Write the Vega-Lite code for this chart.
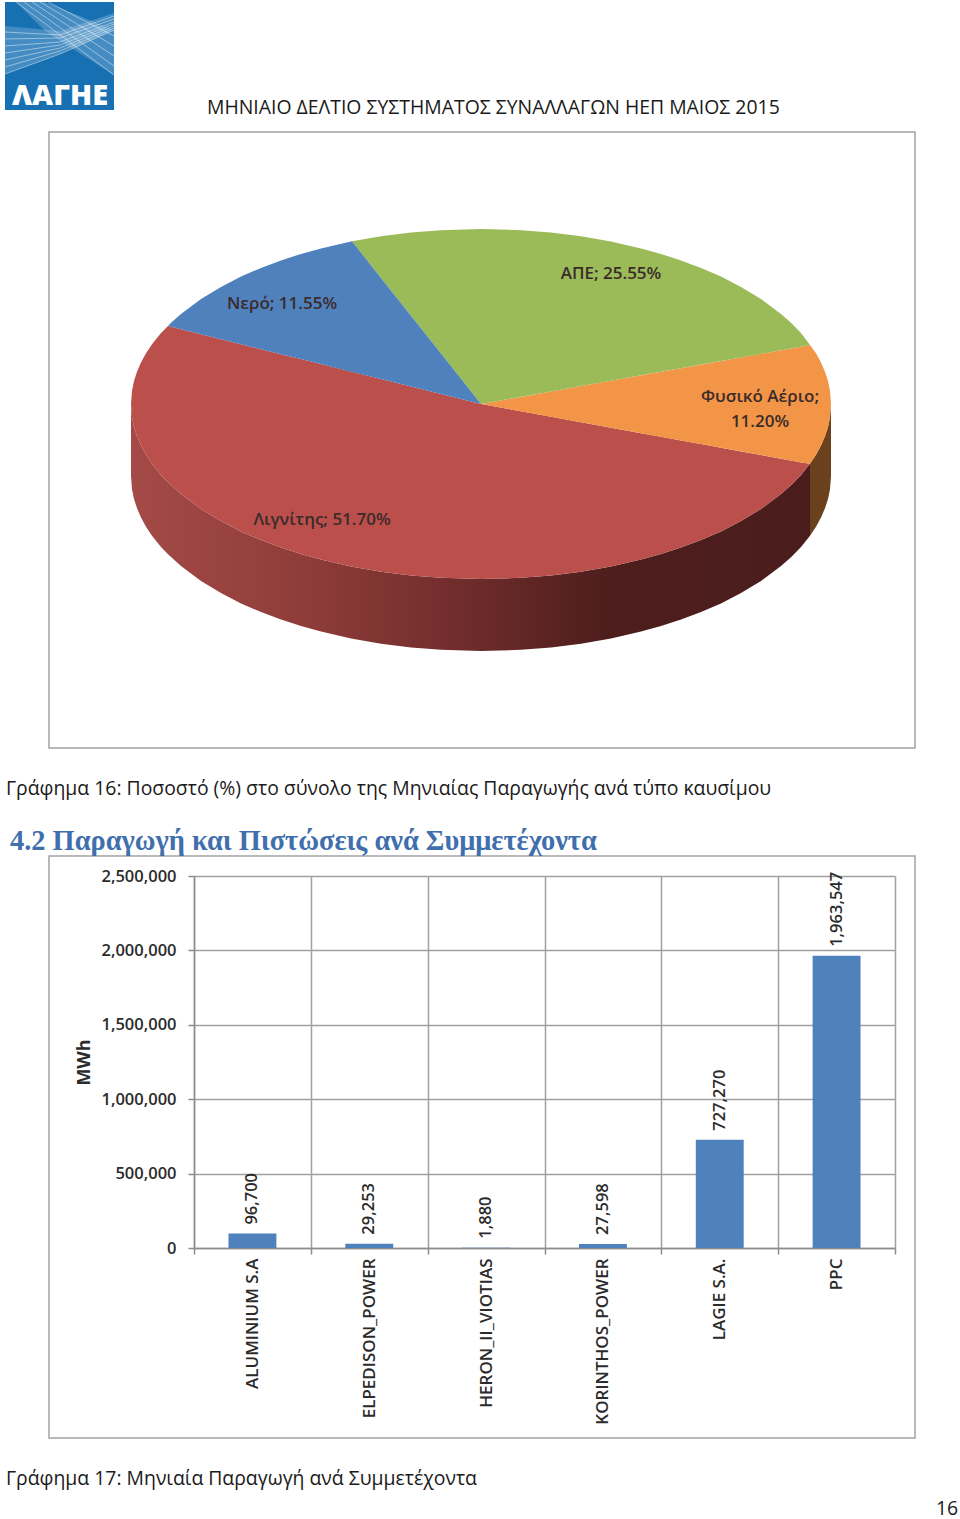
{
"$schema":"https://vega.github.io/schema/vega-lite/v6.json",
"width":960,"height":1519,"padding":0,"autosize":{"type":"none"},
"background":"white",
"config":{"view":{"stroke":null}},
"datasets":{
"frames":[{"name":"pie","x":49,"x2":915,"y":132,"y2":748},{"name":"bars","x":49,"x2":915,"y":856,"y2":1438}],
"logoBase":[{"x":5,"x2":114,"y":2,"y2":110}],
"logoBands":[
{"band":"a","x":5,"y":26,"y2":74},{"band":"a","x":60,"y":31,"y2":54},{"band":"a","x":114,"y":13,"y2":30},
{"band":"b","x":16,"y":2,"y2":2},{"band":"b","x":45,"y":2,"y2":31},{"band":"b","x":114,"y":30,"y2":75}],
"logoLines":[
{"l":"a1","x":5,"y":74},{"l":"a1","x":60,"y":54},{"l":"a1","x":114,"y":30},
{"l":"a2","x":5,"y":67},{"l":"a2","x":60,"y":51},{"l":"a2","x":114,"y":28},
{"l":"a3","x":5,"y":60},{"l":"a3","x":60,"y":48},{"l":"a3","x":114,"y":26},
{"l":"a4","x":5,"y":53},{"l":"a4","x":60,"y":45},{"l":"a4","x":114,"y":24},
{"l":"a5","x":5,"y":46},{"l":"a5","x":60,"y":42},{"l":"a5","x":114,"y":22},
{"l":"a6","x":5,"y":39},{"l":"a6","x":60,"y":38},{"l":"a6","x":114,"y":19},
{"l":"a7","x":5,"y":32},{"l":"a7","x":60,"y":35},{"l":"a7","x":114,"y":16},
{"l":"b1","x":16,"y":2},{"l":"b1","x":114,"y":75},
{"l":"b2","x":24,"y":2},{"l":"b2","x":114,"y":66},
{"l":"b3","x":32,"y":2},{"l":"b3","x":114,"y":56},
{"l":"b4","x":40,"y":2},{"l":"b4","x":114,"y":46},
{"l":"b5","x":48,"y":2},{"l":"b5","x":114,"y":36}],
"sideRed":[
{"x":131,"y":404,"y2":476},{"x":132,"y":417.2,"y2":489.2},{"x":134,"y":426.9,"y2":498.9},{"x":137,"y":436.3,"y2":508.3},{"x":141,"y":445.5,"y2":517.5},{"x":146,"y":454.7,"y2":526.7},{"x":152,"y":463.7,"y2":535.7},{"x":161,"y":474.9,"y2":546.9},{"x":168,"y":482.3,"y2":554.3},{"x":181,"y":494.1,"y2":566.1},{"x":201,"y":509,"y2":581},{"x":221,"y":521.1,"y2":593.1},{"x":241,"y":531.4,"y2":603.4},{"x":261,"y":540.1,"y2":612.1},{"x":281,"y":547.6,"y2":619.6},{"x":301,"y":554.1,"y2":626.1},{"x":321,"y":559.6,"y2":631.6},{"x":351,"y":566.5,"y2":638.5},{"x":381,"y":571.7,"y2":643.7},{"x":411,"y":575.5,"y2":647.5},{"x":441,"y":577.8,"y2":649.8},{"x":481,"y":579,"y2":651},{"x":521,"y":577.8,"y2":649.8},{"x":551,"y":575.5,"y2":647.5},{"x":581,"y":571.7,"y2":643.7},{"x":611,"y":566.5,"y2":638.5},{"x":641,"y":559.6,"y2":631.6},{"x":661,"y":554.1,"y2":626.1},{"x":681,"y":547.6,"y2":619.6},{"x":701,"y":540.1,"y2":612.1},{"x":721,"y":531.4,"y2":603.4},{"x":741,"y":521.1,"y2":593.1},{"x":761,"y":509,"y2":581},{"x":781,"y":494.1,"y2":566.1},{"x":791,"y":485.2,"y2":557.2},{"x":801,"y":474.9,"y2":546.9},{"x":810,"y":463.7,"y2":535.7}],
"sideOrange":[
{"x":810,"y":463.7,"y2":535.7},{"x":816,"y":454.7,"y2":526.7},{"x":821,"y":445.5,"y2":517.5},{"x":825,"y":436.3,"y2":508.3},{"x":828,"y":426.9,"y2":498.9},{"x":830,"y":417.2,"y2":489.2},{"x":831,"y":404,"y2":476}],
"slices":[
{"slice":"Λιγνίτης","x":131,"y":404,"y2":404},{"slice":"Λιγνίτης","x":132,"y":390.8,"y2":417.2},{"slice":"Λιγνίτης","x":134,"y":381.1,"y2":426.9},{"slice":"Λιγνίτης","x":137,"y":371.7,"y2":436.3},{"slice":"Λιγνίτης","x":141,"y":362.5,"y2":445.5},{"slice":"Λιγνίτης","x":146,"y":353.3,"y2":454.7},{"slice":"Λιγνίτης","x":152,"y":344.3,"y2":463.7},{"slice":"Λιγνίτης","x":161,"y":333.1,"y2":474.9},{"slice":"Λιγνίτης","x":168,"y":326,"y2":482.3},{"slice":"Λιγνίτης","x":181,"y":329.2,"y2":494.1},{"slice":"Λιγνίτης","x":201,"y":334.2,"y2":509},{"slice":"Λιγνίτης","x":221,"y":339.2,"y2":521.1},{"slice":"Λιγνίτης","x":241,"y":344.2,"y2":531.4},{"slice":"Λιγνίτης","x":261,"y":349.2,"y2":540.1},{"slice":"Λιγνίτης","x":281,"y":354.2,"y2":547.6},{"slice":"Λιγνίτης","x":301,"y":359.1,"y2":554.1},{"slice":"Λιγνίτης","x":321,"y":364.1,"y2":559.6},{"slice":"Λιγνίτης","x":351,"y":371.6,"y2":566.5},{"slice":"Λιγνίτης","x":381,"y":379.1,"y2":571.7},{"slice":"Λιγνίτης","x":411,"y":386.6,"y2":575.5},{"slice":"Λιγνίτης","x":441,"y":394,"y2":577.8},{"slice":"Λιγνίτης","x":481,"y":404,"y2":579},{"slice":"Λιγνίτης","x":521,"y":411.3,"y2":577.8},{"slice":"Λιγνίτης","x":551,"y":416.8,"y2":575.5},{"slice":"Λιγνίτης","x":581,"y":422.2,"y2":571.7},{"slice":"Λιγνίτης","x":611,"y":427.7,"y2":566.5},{"slice":"Λιγνίτης","x":641,"y":433.2,"y2":559.6},{"slice":"Λιγνίτης","x":661,"y":436.8,"y2":554.1},{"slice":"Λιγνίτης","x":681,"y":440.5,"y2":547.6},{"slice":"Λιγνίτης","x":701,"y":444.1,"y2":540.1},{"slice":"Λιγνίτης","x":721,"y":447.8,"y2":531.4},{"slice":"Λιγνίτης","x":741,"y":451.4,"y2":521.1},{"slice":"Λιγνίτης","x":761,"y":455.1,"y2":509},{"slice":"Λιγνίτης","x":781,"y":458.7,"y2":494.1},{"slice":"Λιγνίτης","x":791,"y":460.5,"y2":485.2},{"slice":"Λιγνίτης","x":801,"y":462.4,"y2":474.9},{"slice":"Λιγνίτης","x":810,"y":463.7,"y2":463.7},
{"slice":"Φυσικό Αέριο","x":481,"y":404,"y2":404},{"slice":"Φυσικό Αέριο","x":581,"y":386.1,"y2":422.2},{"slice":"Φυσικό Αέριο","x":681,"y":368.2,"y2":440.5},{"slice":"Φυσικό Αέριο","x":781,"y":350.3,"y2":458.7},{"slice":"Φυσικό Αέριο","x":801,"y":346.7,"y2":462.4},{"slice":"Φυσικό Αέριο","x":810,"y":345,"y2":463.7},{"slice":"Φυσικό Αέριο","x":816,"y":353.3,"y2":454.7},{"slice":"Φυσικό Αέριο","x":821,"y":362.5,"y2":445.5},{"slice":"Φυσικό Αέριο","x":825,"y":371.7,"y2":436.3},{"slice":"Φυσικό Αέριο","x":828,"y":381.1,"y2":426.9},{"slice":"Φυσικό Αέριο","x":830,"y":390.8,"y2":417.2},{"slice":"Φυσικό Αέριο","x":831,"y":404,"y2":404},
{"slice":"ΑΠΕ","x":352,"y":241.3,"y2":241.3},{"slice":"ΑΠΕ","x":381,"y":236.3,"y2":277.9},{"slice":"ΑΠΕ","x":411,"y":232.5,"y2":315.7},{"slice":"ΑΠΕ","x":441,"y":230.2,"y2":353.6},{"slice":"ΑΠΕ","x":481,"y":229,"y2":404},{"slice":"ΑΠΕ","x":521,"y":230.2,"y2":396.8},{"slice":"ΑΠΕ","x":551,"y":232.5,"y2":391.4},{"slice":"ΑΠΕ","x":581,"y":236.3,"y2":386.1},{"slice":"ΑΠΕ","x":611,"y":241.5,"y2":380.7},{"slice":"ΑΠΕ","x":641,"y":248.4,"y2":375.3},{"slice":"ΑΠΕ","x":661,"y":253.9,"y2":371.7},{"slice":"ΑΠΕ","x":681,"y":260.4,"y2":368.2},{"slice":"ΑΠΕ","x":701,"y":267.9,"y2":364.6},{"slice":"ΑΠΕ","x":721,"y":276.6,"y2":361},{"slice":"ΑΠΕ","x":741,"y":286.9,"y2":357.4},{"slice":"ΑΠΕ","x":761,"y":299,"y2":353.9},{"slice":"ΑΠΕ","x":781,"y":313.9,"y2":350.3},{"slice":"ΑΠΕ","x":791,"y":322.8,"y2":348.5},{"slice":"ΑΠΕ","x":801,"y":333.1,"y2":346.7},{"slice":"ΑΠΕ","x":810,"y":345,"y2":345},
{"slice":"Νερό","x":168,"y":326,"y2":326},{"slice":"Νερό","x":171,"y":322.8,"y2":326.7},{"slice":"Νερό","x":181,"y":313.9,"y2":329.2},{"slice":"Νερό","x":201,"y":299,"y2":334.2},{"slice":"Νερό","x":221,"y":286.9,"y2":339.2},{"slice":"Νερό","x":241,"y":276.6,"y2":344.2},{"slice":"Νερό","x":261,"y":267.9,"y2":349.2},{"slice":"Νερό","x":281,"y":260.4,"y2":354.2},{"slice":"Νερό","x":301,"y":253.9,"y2":359.1},{"slice":"Νερό","x":321,"y":248.4,"y2":364.1},{"slice":"Νερό","x":352,"y":241.3,"y2":371.9},{"slice":"Νερό","x":381,"y":277.9,"y2":379.1},{"slice":"Νερό","x":411,"y":315.7,"y2":386.6},{"slice":"Νερό","x":441,"y":353.6,"y2":394},{"slice":"Νερό","x":481,"y":404,"y2":404}],
"pieLabels":[
{"label":"Νερό; 11.55%","x":282,"y":309},
{"label":"ΑΠΕ; 25.55%","x":611,"y":279},
{"label":"Φυσικό Αέριο;","x":760,"y":402},
{"label":"11.20%","x":760,"y":427},
{"label":"Λιγνίτης; 51.70%","x":322,"y":525}],
"bodyText":[
{"label":"ΜΗΝΙΑΙΟ ΔΕΛΤΙΟ ΣΥΣΤΗΜΑΤΟΣ ΣΥΝΑΛΛΑΓΩΝ ΗΕΠ ΜΑΙΟΣ 2015","x":207,"y":114},
{"label":"Γράφημα 16: Ποσοστό (%) στο σύνολο της Μηνιαίας Παραγωγής ανά τύπο καυσίμου","x":6,"y":795},
{"label":"Γράφημα 17: Μηνιαία Παραγωγή ανά Συμμετέχοντα","x":6,"y":1485},
{"label":"16","x":936,"y":1515}],
"heading":[{"label":"4.2 Παραγωγή και Πιστώσεις ανά Συμμετέχοντα","x":10,"y":850}],
"logoText":[{"label":"ΛΑΓΗΕ","x":60,"y":105}],
"bars":[
{"company":"ALUMINIUM S.A","mwh":96700},
{"company":"ELPEDISON_POWER","mwh":29253},
{"company":"HERON_II_VIOTIAS","mwh":1880},
{"company":"KORINTHOS_POWER","mwh":27598},
{"company":"LAGIE S.A.","mwh":727270},
{"company":"PPC","mwh":1963547}]
},
"layer":[
{"data":{"name":"bars"},
"mark":{"type":"bar","opacity":0},
"encoding":{
"x":{"field":"company","type":"nominal","sort":null,"title":null,"scale":{"range":[194,895],"paddingInner":0,"paddingOuter":0},
"axis":{"orient":"top","tickBand":"extent","grid":true,"gridColor":"#a0a0a0","gridWidth":1.5,"domain":false,"ticks":false,"labels":false}},
"y":{"field":"mwh","type":"quantitative","scale":{"domain":[0,2500000],"range":[1248,876]},"axis":null}}},
{"encoding":{
"x":{"field":"x","type":"quantitative","scale":{"domain":[0,960],"range":[0,960]},"axis":null},
"y":{"field":"y","type":"quantitative","scale":{"domain":[0,1519],"range":[0,1519]},"axis":null}},
"layer":[
{"data":{"name":"frames"},"mark":{"type":"rect","fill":null,"stroke":"#a3a3a3","strokeWidth":1.5},"encoding":{"x2":{"field":"x2"},"y2":{"field":"y2"}}},
{"data":{"name":"logoBase"},"mark":{"type":"rect","fill":"#1670b2"},"encoding":{"x2":{"field":"x2"},"y2":{"field":"y2"}}},
{"data":{"name":"logoBands"},"mark":{"type":"area","fill":"#ffffff","fillOpacity":0.2},"encoding":{"detail":{"field":"band"},"y":{"field":"y","type":"quantitative","stack":null,"scale":{"domain":[0,1519],"range":[0,1519]},"axis":null},"y2":{"field":"y2"}}},
{"data":{"name":"logoLines"},"mark":{"type":"line","stroke":"#ffffff","strokeWidth":1,"opacity":0.45},"encoding":{"detail":{"field":"l"}}},
{"data":{"name":"logoText"},"mark":{"type":"text","align":"center","baseline":"alphabetic","font":"Open Sans","fontWeight":800,"fontSize":29,"fill":"#ffffff"},"encoding":{"text":{"field":"label"}}},
{"data":{"name":"sideRed"},"mark":{"type":"area","color":{"gradient":"linear","x1":0,"x2":1,"y1":0,"y2":0,"stops":[{"offset":0,"color":"#a44a47"},{"offset":0.25,"color":"#8f3d3a"},{"offset":0.45,"color":"#752f2e"},{"offset":0.7,"color":"#4e1e1d"},{"offset":1,"color":"#4a1d1c"}]}},"encoding":{"y":{"field":"y","type":"quantitative","stack":null,"scale":{"domain":[0,1519],"range":[0,1519]},"axis":null},"y2":{"field":"y2"}}},
{"data":{"name":"sideOrange"},"mark":{"type":"area","color":"#6a401d"},"encoding":{"y":{"field":"y","type":"quantitative","stack":null,"scale":{"domain":[0,1519],"range":[0,1519]},"axis":null},"y2":{"field":"y2"}}},
{"data":{"name":"slices"},"mark":{"type":"area"},"encoding":{"y":{"field":"y","type":"quantitative","stack":null,"scale":{"domain":[0,1519],"range":[0,1519]},"axis":null},"y2":{"field":"y2"},"color":{"field":"slice","type":"nominal","legend":null,"scale":{"domain":["Λιγνίτης","Φυσικό Αέριο","ΑΠΕ","Νερό"],"range":["#bb4f4b","#f39546","#9bbb59","#4f81bd"]}}}},
{"data":{"name":"pieLabels"},"mark":{"type":"text","align":"center","baseline":"alphabetic","font":"Open Sans","fontWeight":600,"fontSize":17,"fill":"#3a2b2b"},"encoding":{"text":{"field":"label"}}},
{"data":{"name":"bodyText"},"mark":{"type":"text","align":"left","baseline":"alphabetic","font":"Open Sans","fontSize":19.4,"fill":"#1a1a1a"},"encoding":{"text":{"field":"label"}}},
{"data":{"name":"heading"},"mark":{"type":"text","align":"left","baseline":"alphabetic","font":"Liberation Serif","fontWeight":"bold","fontSize":28.4,"fill":"#3f6fad"},"encoding":{"text":{"field":"label"}}}
]},
{"data":{"name":"bars"},
"encoding":{
"x":{"field":"company","type":"nominal","sort":null,"title":null,"scale":{"range":[194,895],"paddingInner":0,"paddingOuter":0},
"axis":{"orient":"bottom","offset":-271,"tickBand":"extent","grid":false,"domainColor":"#8c8c8c","domainWidth":1.5,"tickColor":"#8c8c8c","tickWidth":1.5,"tickSize":6,"labelAngle":-90,"labelFont":"Open Sans","labelFontWeight":600,"labelFontSize":17,"labelColor":"#2b2b2b","labelPadding":4,"labelLimit":200}},
"y":{"field":"mwh","type":"quantitative","title":"MWh","scale":{"domain":[0,2500000],"range":[1248,876]},
"axis":{"orient":"left","offset":-194,"values":[0,500000,1000000,1500000,2000000,2500000],"labelExpr":"format(datum.value, ',')","grid":true,"gridColor":"#a0a0a0","gridWidth":1.5,"domainColor":"#8c8c8c","domainWidth":1.5,"tickColor":"#8c8c8c","tickWidth":1.5,"tickSize":6,"labelFont":"Open Sans","labelFontWeight":600,"labelFontSize":16.5,"labelColor":"#2b2b2b","labelPadding":12,"titleFont":"Open Sans","titleFontWeight":"bold","titleFontSize":18,"titleColor":"#2b2b2b","titlePadding":7}}},
"layer":[
{"mark":{"type":"bar","color":"#4f81bd","width":{"band":0.41}}},
{"mark":{"type":"text","angle":270,"align":"left","baseline":"middle","dx":9,"font":"Open Sans","fontWeight":600,"fontSize":16.5,"fill":"#2b2b2b"},"encoding":{"text":{"field":"mwh","type":"quantitative","format":","}}}
]}
],
"resolve":{"scale":{"x":"independent","y":"independent","color":"independent"},"axis":{"x":"independent","y":"independent"}}
}
